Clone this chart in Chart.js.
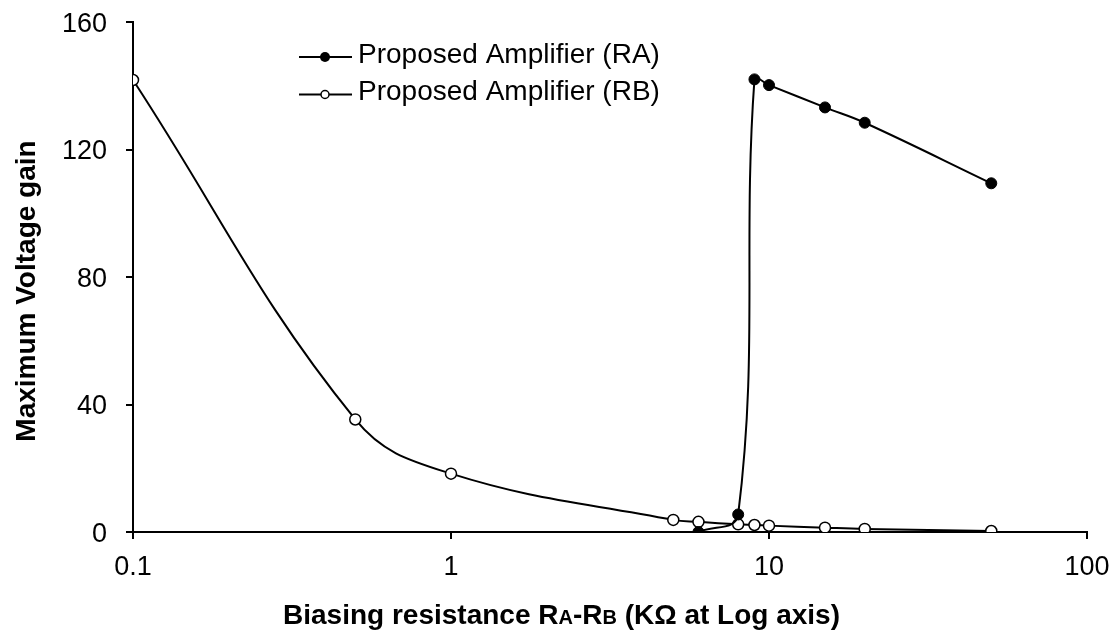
<!DOCTYPE html>
<html>
<head>
<meta charset="utf-8">
<script src="https://cdn.jsdelivr.net/npm/chart.js@4/dist/chart.umd.min.js"></script>
<style>
	html, body { margin: 0; padding: 0; background: #fff; }
	#wrap { width: 1119px; height: 633px; position: relative; }
</style>
</head>
<body>
<div id="wrap"><canvas id="chart" width="1119" height="633"></canvas></div>
<script>
	// values
	const raResistance = [6, 8, 9, 10, 15, 20, 50];
	const raGain = [0, 5.5, 142, 140.2, 133.2, 128.4, 109.4];
	const rbResistance = [0.1, 0.5, 1, 5, 6, 8, 9, 10, 15, 20, 50];
	const rbGain = [141.8, 35.3, 18.3, 3.8, 3.2, 2.4, 2.2, 2.0, 1.35, 0.95, 0.3];
	const xTickValues = [0.1, 1, 10, 100];
	const yTickValues = [0, 40, 80, 120, 160];
	const seriesLabels = ["Proposed Amplifier (RA)", "Proposed Amplifier (RB)"];

	const FONT = "'Liberation Sans', Arial, sans-serif";

	function toPoints(xs, ys) {
		return xs.map((x, i) => ({ x, y: ys[i] }));
	}

	// tick labels, legend and axis titles, drawn on top of the chart
	const annotations = {
		id: "annotations",
		afterDraw(chart) {
			const ctx = chart.ctx;
			const xScale = chart.scales.x;
			const yScale = chart.scales.y;
			ctx.save();
			ctx.fillStyle = "#000";
			ctx.strokeStyle = "#000";
			ctx.textBaseline = "alphabetic";

			// tick labels
			ctx.font = "27px " + FONT;
			ctx.textAlign = "center";
			xScale.ticks.forEach((tick) => {
				ctx.fillText(String(tick.value), xScale.getPixelForValue(tick.value), 575);
			});
			ctx.textAlign = "right";
			yScale.ticks.forEach((tick) => {
				ctx.fillText(String(tick.value), 107, yScale.getPixelForValue(tick.value) + 9.5);
			});

			// legend
			const rows = [57, 94.5];
			chart.data.datasets.forEach((ds, i) => {
				const y = rows[i];
				ctx.lineWidth = 2;
				ctx.beginPath();
				ctx.moveTo(299, y);
				ctx.lineTo(352, y);
				ctx.stroke();
				ctx.beginPath();
				if (i === 0) {
					ctx.arc(325, y, 5, 0, Math.PI * 2);
					ctx.fill();
				}
				else {
					ctx.arc(325, y, 4, 0, Math.PI * 2);
					ctx.fillStyle = "#fff";
					ctx.fill();
					ctx.lineWidth = 1.5;
					ctx.stroke();
					ctx.fillStyle = "#000";
				}
				ctx.font = "28px " + FONT;
				ctx.textAlign = "left";
				ctx.fillText(ds.label, 358, y + 5.5);
			});

			// y title
			ctx.save();
			ctx.translate(35, 291);
			ctx.rotate(-Math.PI / 2);
			ctx.font = "bold 28px " + FONT;
			ctx.textAlign = "center";
			ctx.fillText("Maximum Voltage gain", 0, 0);
			ctx.restore();

			// x title with small capitals A and B
			const parts = [
				["Biasing resistance R", 28],
				["A", 20],
				["-R", 28],
				["B", 20],
				[" (K\u03A9 at Log axis)", 28]
			];
			let x = 283;
			ctx.textAlign = "left";
			parts.forEach(([text, size]) => {
				ctx.font = "bold " + size + "px " + FONT;
				ctx.fillText(text, x, 624);
				x += ctx.measureText(text).width;
			});

			ctx.restore();
		}
	};

	new Chart(document.getElementById("chart"), {
		type: "scatter",
		data: {
			datasets: [
				{
					label: seriesLabels[0],
					data: toPoints(raResistance, raGain),
					showLine: true,
					tension: 0.4,
					borderColor: "#000",
					borderWidth: 2,
					backgroundColor: "#000",
					pointBackgroundColor: "#000",
					pointBorderColor: "#000",
					pointRadius: 5.5,
					pointBorderWidth: 1
				},
				{
					label: seriesLabels[1],
					data: toPoints(rbResistance, rbGain),
					showLine: true,
					tension: 0.4,
					borderColor: "#000",
					borderWidth: 2,
					backgroundColor: "#fff",
					pointBackgroundColor: "#fff",
					pointBorderColor: "#000",
					pointRadius: 5.5,
					pointBorderWidth: 1.5
				}
			]
		},
		options: {
			responsive: false,
			animation: false,
			layout: { padding: { top: 22, right: 32, left: 0, bottom: 0 } },
			plugins: {
				legend: { display: false },
				tooltip: { enabled: false }
			},
			scales: {
				x: {
					type: "logarithmic",
					min: 0.1,
					max: 100,
					afterBuildTicks: (scale) => {
						scale.ticks = xTickValues.map((value) => ({ value }));
					},
					afterFit: (scale) => { scale.height = 101; },
					ticks: { display: false },
					grid: { drawOnChartArea: false, drawTicks: true, tickLength: 7, color: "#000", lineWidth: 2 },
					border: { display: true, color: "#000", width: 2 }
				},
				y: {
					min: 0,
					max: 160,
					afterBuildTicks: (scale) => {
						scale.ticks = yTickValues.map((value) => ({ value }));
					},
					afterFit: (scale) => { scale.width = 133; },
					ticks: { display: false },
					grid: { drawOnChartArea: false, drawTicks: true, tickLength: 7, color: "#000", lineWidth: 2 },
					border: { display: true, color: "#000", width: 2 }
				}
			}
		},
		plugins: [annotations]
	});
</script>
</body>
</html>
